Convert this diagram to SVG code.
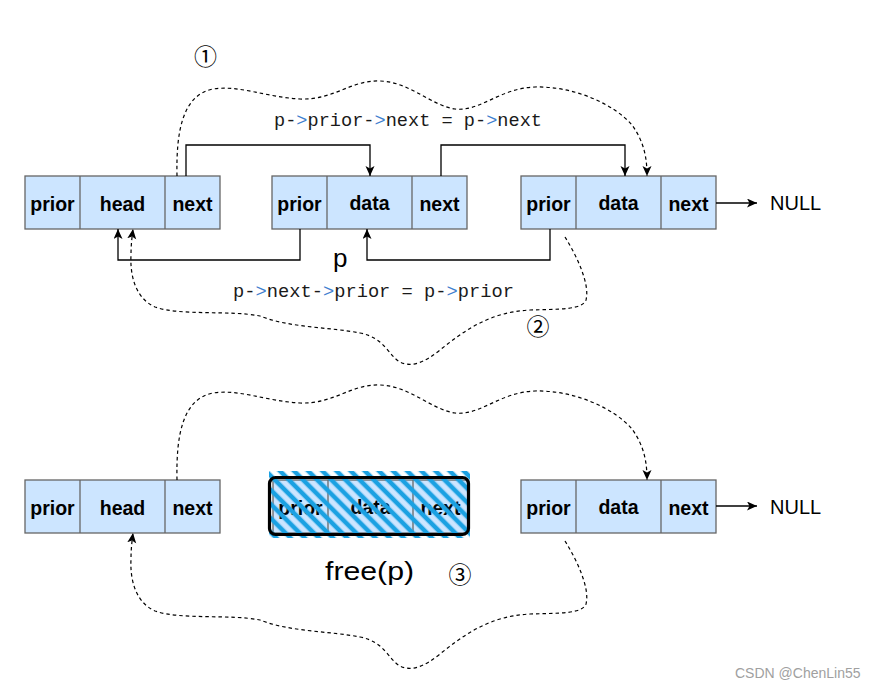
<svg xmlns="http://www.w3.org/2000/svg" width="876" height="688" viewBox="0 0 876 688">
<style>
.cell{fill:#cce5ff;stroke:#666666;stroke-width:1.3}
.div{stroke:#666666;stroke-width:1.3}
.lbl{font-family:"Liberation Sans",Arial,sans-serif;font-weight:bold;font-size:19.5px;fill:#000;text-anchor:middle}
.wire{fill:none;stroke:#000;stroke-width:1.3;marker-end:url(#arr)}
.dash{fill:none;stroke:#000;stroke-width:1.2;stroke-dasharray:3.5 3;marker-end:url(#arr)}
.code{font-family:"Liberation Mono","DejaVu Sans Mono",monospace;font-size:18.6px;fill:#1a1a1a}
.gt{fill:#3f80cf}
.big{font-family:"Liberation Sans",Arial,sans-serif;font-size:26px;fill:#000}
.num{font-family:"Noto Sans CJK SC","DejaVu Sans",sans-serif;font-size:23px;fill:#000;text-anchor:middle}
.null{font-family:"Liberation Sans",Arial,sans-serif;font-size:20px;fill:#000}
</style>
<defs>
<marker id="arr" markerUnits="userSpaceOnUse" markerWidth="12" markerHeight="10" refX="10" refY="4.5" orient="auto">
<path d="M0,0 L10,4.5 L0,9 L2.5,4.5 z" fill="#000"/>
</marker>
<pattern id="hatch" patternUnits="userSpaceOnUse" width="10" height="10" patternTransform="rotate(-45)">
<line x1="5" y1="-2" x2="5" y2="12" stroke="#1ba1e2" stroke-width="4.6"/>
</pattern>
<clipPath id="hclip"><rect x="269" y="471" width="201" height="67"/></clipPath>
</defs>
<rect width="876" height="688" fill="#fff"/>

<g id="node-head-top">
<rect class="cell" x="25" y="176" width="195" height="53"/>
<line class="div" x1="80" y1="176" x2="80" y2="229"/>
<line class="div" x1="165" y1="176" x2="165" y2="229"/>
<text class="lbl" x="52.5" y="211">prior</text>
<text class="lbl" x="122.5" y="211">head</text>
<text class="lbl" x="192.5" y="211">next</text>
</g>
<g id="node-p-top">
<rect class="cell" x="272" y="176" width="195" height="53"/>
<line class="div" x1="327" y1="176" x2="327" y2="229"/>
<line class="div" x1="412" y1="176" x2="412" y2="229"/>
<text class="lbl" x="299.5" y="211">prior</text>
<text class="lbl" x="369.5" y="210">data</text>
<text class="lbl" x="439.5" y="211">next</text>
</g>
<g id="node-next-top">
<rect class="cell" x="521" y="176" width="195" height="53"/>
<line class="div" x1="576" y1="176" x2="576" y2="229"/>
<line class="div" x1="661" y1="176" x2="661" y2="229"/>
<text class="lbl" x="548.5" y="211">prior</text>
<text class="lbl" x="618.5" y="210">data</text>
<text class="lbl" x="688.5" y="211">next</text>
</g>
<g id="null-top"><text class="null" x="770" y="210">NULL</text></g>

<g id="node-head-bottom">
<rect class="cell" x="25" y="480" width="195" height="53"/>
<line class="div" x1="80" y1="480" x2="80" y2="533"/>
<line class="div" x1="165" y1="480" x2="165" y2="533"/>
<text class="lbl" x="52.5" y="515">prior</text>
<text class="lbl" x="122.5" y="515">head</text>
<text class="lbl" x="192.5" y="515">next</text>
</g>
<g id="node-p-freed">
<rect class="cell" x="273" y="480" width="195" height="53"/>
<line class="div" x1="328" y1="480" x2="328" y2="533"/>
<line class="div" x1="413" y1="480" x2="413" y2="533"/>
<text class="lbl" x="300.5" y="515">prior</text>
<text class="lbl" x="370.5" y="514">data</text>
<text class="lbl" x="440.5" y="515">next</text>
<rect x="268" y="471" width="203" height="67" fill="url(#hatch)" clip-path="url(#hclip)"/>
<rect x="269.5" y="477.5" width="199" height="57" rx="6" fill="none" stroke="#000" stroke-width="3.2"/>
</g>
<g id="node-next-bottom">
<rect class="cell" x="521" y="480" width="195" height="53"/>
<line class="div" x1="576" y1="480" x2="576" y2="533"/>
<line class="div" x1="661" y1="480" x2="661" y2="533"/>
<text class="lbl" x="548.5" y="515">prior</text>
<text class="lbl" x="618.5" y="514">data</text>
<text class="lbl" x="688.5" y="515">next</text>
</g>
<g id="null-bottom"><text class="null" x="770" y="514">NULL</text></g>

<g id="connectors">
<path class="wire" d="M186,176 V145 H370 V176"/>
<path class="wire" d="M441,176 V145 H625 V176"/>
<path class="wire" d="M300,229 V260 H118 V229"/>
<path class="wire" d="M550,229 V260 H367 V229"/>
<path class="wire" d="M716,203 H757"/>
<path class="wire" d="M716,506 H757"/>
<path class="dash" d="M177,176 C176,130 183,95 213,89 C240,85 265,97 300,99 C335,100 350,80 380,81 C410,82 430,105 455,109 C480,112 500,88 535,87 C575,86 615,105 632,125 C645,143 647,160 647,176"/>
<path class="dash" d="M565,237 C578,258 590,285 586,300 C582,310 560,309 530,310 C490,312 465,330 440,350 C425,362 412,368 400,362 C388,355 385,338 360,333 C330,327 290,328 260,316 C230,310 180,316 155,307 C135,298 130,275 131,255 C131,245 132,237 133,229"/>
<path class="dash" transform="translate(0,304)" d="M177,176 C176,130 183,95 213,89 C240,85 265,97 300,99 C335,100 350,80 380,81 C410,82 430,105 455,109 C480,112 500,88 535,87 C575,86 615,105 632,125 C645,143 647,160 647,176"/>
<path class="dash" transform="translate(0,304)" d="M565,237 C578,258 590,285 586,300 C582,310 560,309 530,310 C490,312 465,330 440,350 C425,362 412,368 400,362 C388,355 385,338 360,333 C330,327 290,328 260,316 C230,310 180,316 155,307 C135,298 130,275 131,255 C131,245 132,237 133,229"/>
</g>

<g id="labels">
<text class="code" x="274" y="126" textLength="268" lengthAdjust="spacingAndGlyphs">p-<tspan class="gt">&gt;</tspan>prior-<tspan class="gt">&gt;</tspan>next = p-<tspan class="gt">&gt;</tspan>next</text>
<text class="code" x="233" y="297" textLength="281" lengthAdjust="spacingAndGlyphs">p-<tspan class="gt">&gt;</tspan>next-<tspan class="gt">&gt;</tspan>prior = p-<tspan class="gt">&gt;</tspan>prior</text>
<text class="big" x="333" y="267">p</text>
<text class="big" x="325" y="580" font-size="30" textLength="89" lengthAdjust="spacingAndGlyphs">free(p)</text>
<text class="num" x="205.5" y="65">①</text>
<text class="num" x="538" y="335">②</text>
<text class="num" x="460" y="583">③</text>
<text x="735" y="678" font-family="Liberation Sans,Arial,sans-serif" font-size="14" fill="#a0a0a0">CSDN @ChenLin55</text>
</g>
</svg>
